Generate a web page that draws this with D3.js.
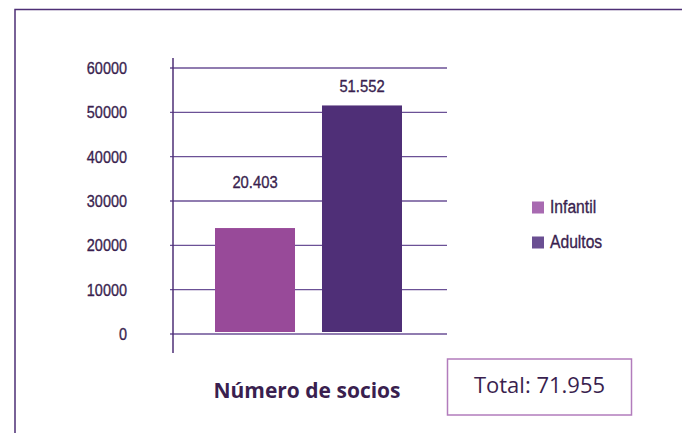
<!DOCTYPE html>
<html>
<head>
<meta charset="utf-8">
<script src="https://cdn.jsdelivr.net/npm/d3@7"></script>
<style>
  body { margin: 0; background: #fff; }
  text { fill: #3a1f4f; }
  .tick, .val, .leg text { stroke: #3a1f4f; stroke-width: 0.35px; }
</style>
</head>
<body>
<script>
// valores
const categorias = ["Infantil", "Adultos"];
const alturas = [23900, 51552];          // altura de barra tal como se dibuja
const etiquetas = ["20.403", "51.552"];   // texto sobre cada barra
const ticks = [0, 10000, 20000, 30000, 40000, 50000, 60000];
const colores = ["#984a99", "#4f2f77"];
const coloresLeyenda = ["#a86ab1", "#6a4f92"];
const titulo = "Número de socios";
const total = "Total: 71.955";

const w = 682, h = 433;
const labelLift = [40, 13];
const narrow = "'Liberation Sans', Arial, sans-serif";

const svg = d3.select("body").append("svg")
  .attr("width", w).attr("height", h);

// marco
svg.append("path")
  .attr("d", "M15,433V9.5H682")
  .attr("fill", "none")
  .attr("stroke", "#4e2f76")
  .attr("stroke-width", 1.5);

let y = d3.scaleLinear().domain([0, 60000]).range([334, 68]);
let x = d3.scaleBand().domain(categorias).range([215, 402]).paddingInner(0.2523).paddingOuter(0);

// rejilla
svg.selectAll("line.grid")
  .data(ticks).enter().append("line")
    .attr("class", "grid")
    .attr("x1", 170).attr("x2", 447)
    .attr("y1", d => y(d)).attr("y2", d => y(d))
    .attr("stroke", "#6b5196")
    .attr("stroke-width", 1.4);

// etiquetas del eje, estrechadas para parecerse a la fuente original
svg.selectAll("text.tick")
  .data(ticks).enter().append("text")
    .attr("class", "tick")
    .attr("transform", d => `translate(127,${y(d)}) scale(0.85,1)`)
    .attr("dy", "0.35em")
    .attr("text-anchor", "end")
    .style("font-family", narrow)
    .style("font-size", "17px")
    .text(d => d);

// eje vertical
svg.append("line")
  .attr("x1", 173).attr("x2", 173)
  .attr("y1", 58).attr("y2", 353)
  .attr("stroke", "#4e2f76")
  .attr("stroke-width", 1.5);

// barras
svg.selectAll("rect.bar")
  .data(alturas).enter().append("rect")
    .attr("class", "bar")
    .attr("x", (d, i) => x(categorias[i]))
    .attr("width", x.bandwidth())
    .attr("y", d => y(d))
    .attr("height", d => y(0) - 2 - y(d))
    .attr("fill", (d, i) => colores[i]);

svg.selectAll("text.val")
  .data(alturas).enter().append("text")
    .attr("class", "val")
    .attr("transform", (d, i) => `translate(${x(categorias[i]) + x.bandwidth() / 2},${y(d) - labelLift[i]}) scale(0.87,1)`)
    .attr("text-anchor", "middle")
    .style("font-family", narrow)
    .style("font-size", "17px")
    .text((d, i) => etiquetas[i]);

// leyenda
let leg = svg.selectAll("g.leg")
  .data(categorias).enter().append("g")
    .attr("class", "leg")
    .attr("transform", (d, i) => `translate(532,${201.5 + i * 35})`);

leg.append("rect")
  .attr("width", 12).attr("height", 12)
  .attr("fill", (d, i) => coloresLeyenda[i]);

leg.append("text")
  .attr("transform", "translate(18,11.5) scale(0.87,1)")
  .style("font-family", narrow)
  .style("font-size", "18px")
  .text(d => d);

// titulo
svg.append("text")
  .attr("x", 307).attr("y", 398)
  .attr("text-anchor", "middle")
  .style("font-family", "'Open Sans', sans-serif")
  .style("font-weight", "bold")
  .style("font-size", "21px")
  .text(titulo);

// total
svg.append("rect")
  .attr("x", 447.5).attr("y", 359)
  .attr("width", 184).attr("height", 56)
  .attr("fill", "none")
  .attr("stroke", "#b27cbc")
  .attr("stroke-width", 1.5);

svg.append("text")
  .attr("x", 539.5).attr("y", 393)
  .attr("text-anchor", "middle")
  .style("font-family", "'Open Sans', sans-serif")
  .style("font-size", "22px")
  .text(total);
</script>
</body>
</html>
